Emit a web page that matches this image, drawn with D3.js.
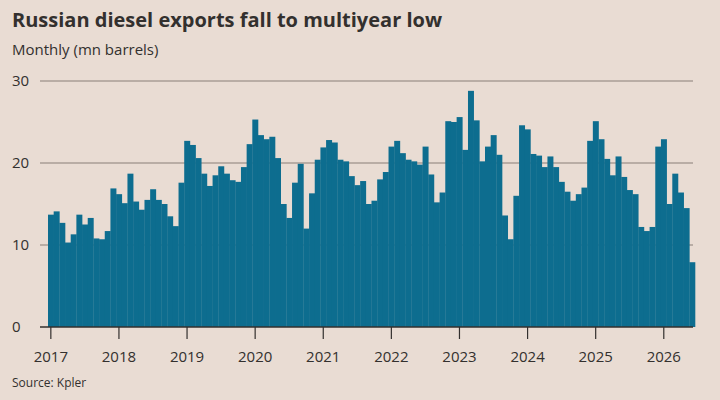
<!DOCTYPE html>
<html lang="en">
<head>
<meta charset="UTF-8">
<script src="https://d3js.org/d3.v7.min.js"></script>
<style>
  body { margin: 0; background: #e9dcd3; }
  text { font-family: "Open Sans", "Noto Sans", sans-serif; fill: #33302e; }
</style>
</head>
<body>
<div id="chart"></div>
<script>
// monthly Russian diesel exports, mn barrels, Jan 2017 onward
var startYear = 2017;
var exports2017 = [13.7, 14.1, 12.7, 10.3, 11.3, 13.7, 12.5, 13.3, 10.8, 10.7, 11.7, 16.9];
var exports2018 = [16.2, 15.1, 18.7, 15.3, 14.3, 15.5, 16.8, 15.5, 15.0, 13.5, 12.3, 17.6];
var exports2019 = [22.7, 22.2, 20.6, 18.7, 17.2, 18.5, 19.6, 18.7, 17.9, 17.7, 19.5, 22.3];
var exports2020 = [25.3, 23.4, 22.9, 23.2, 20.6, 15.0, 13.3, 17.6, 19.9, 12.0, 16.3, 20.4];
var exports2021 = [21.9, 22.8, 22.5, 20.4, 20.2, 18.4, 17.3, 17.8, 15.0, 15.4, 18.0, 18.9];
var exports2022 = [22.0, 22.7, 21.2, 20.4, 20.2, 19.8, 22.0, 18.6, 15.2, 16.4, 25.1, 25.0];
var exports2023 = [25.6, 21.6, 28.8, 25.2, 20.2, 22.0, 23.4, 21.0, 13.6, 10.7, 16.0, 24.6];
var exports2024 = [24.1, 21.1, 20.9, 19.5, 20.8, 19.5, 17.7, 16.5, 15.4, 16.2, 17.0, 22.7];
var exports2025 = [25.1, 22.9, 20.5, 18.5, 20.8, 18.3, 16.7, 16.2, 12.2, 11.7, 12.2, 22.0];
var exports2026 = [22.9, 15.0, 18.7, 16.4, 14.5, 7.9];
var yTicks = [0, 10, 20, 30];
var yearLabels = ["2017", "2018", "2019", "2020", "2021", "2022", "2023", "2024", "2025", "2026"];

var values = [].concat(exports2017, exports2018, exports2019, exports2020, exports2021,
  exports2022, exports2023, exports2024, exports2025, exports2026);

var width = 720, height = 400;
var svg = d3.select("#chart").append("svg").attr("width", width).attr("height", height);

var x = d3.scaleBand().domain(d3.range(values.length)).range([48, 695]).padding(0);
var y = d3.scaleLinear().domain([0, 30]).range([327, 81]);

svg.append("text").attr("x", 12).attr("y", 27)
  .style("font-size", "20px").style("font-weight", "700")
  .text("Russian diesel exports fall to multiyear low");
svg.append("text").attr("x", 12).attr("y", 55)
  .style("font-size", "15px").text("Monthly (mn barrels)");

// gridlines + y labels
svg.selectAll(".grid").data(yTicks.filter(function (d) { return d > 0; })).enter()
  .append("line")
  .attr("x1", 40).attr("x2", 693)
  .attr("y1", function (d) { return y(d); }).attr("y2", function (d) { return y(d); })
  .attr("stroke", "#8a7f78").attr("stroke-width", 1.2);

svg.selectAll(".ylab").data(yTicks).enter().append("text")
  .attr("x", 12).attr("y", function (d) { return y(d) + 5; })
  .style("font-size", "15px").text(function (d) { return d; });

svg.selectAll(".bar").data(values).enter().append("rect")
  .attr("x", function (d, i) { return x(i); })
  .attr("width", x.bandwidth() + 0.3)
  .attr("y", function (d) { return y(d); })
  .attr("height", function (d) { return y(0) - y(d); })
  .attr("fill", "#0d6d8f");

// baseline
svg.append("line").attr("x1", 40).attr("x2", 693)
  .attr("y1", y(0)).attr("y2", y(0))
  .attr("stroke", "#33302e").attr("stroke-width", 1.5);

// year ticks at January bars
var xAxis = svg.append("g");
yearLabels.forEach(function (lab, k) {
  var cx = x(k * 12) + x.bandwidth() / 2;
  xAxis.append("line").attr("x1", cx).attr("x2", cx)
    .attr("y1", y(0)).attr("y2", y(0) + 12)
    .attr("stroke", "#33302e").attr("stroke-width", 1.2);
  xAxis.append("text").attr("x", cx).attr("y", 362)
    .attr("text-anchor", "middle").style("font-size", "15px").text(lab);
});

svg.append("text").attr("x", 12).attr("y", 387)
  .style("font-size", "12px").text("Source: Kpler");
</script>
</body>
</html>
